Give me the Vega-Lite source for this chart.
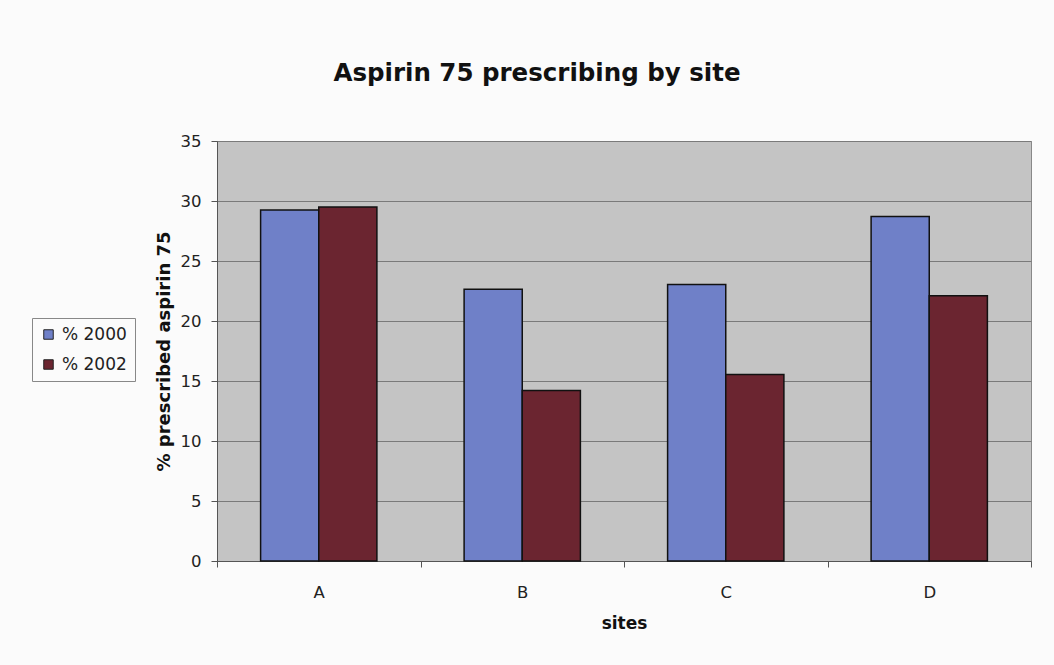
{
  "$schema": "https://vega.github.io/schema/vega-lite/v6.json",
  "autosize": {"type": "none"},
  "width": 814,
  "height": 420,
  "padding": {"left": 217, "top": 141, "right": 23, "bottom": 104},
  "background": "#fbfbfb",
  "title": {
    "text": "Aspirin 75 prescribing by site",
    "fontSize": 24.5,
    "font": "DejaVu Sans",
    "fontWeight": "bold",
    "color": "#111111",
    "anchor": "middle",
    "frame": "group",
    "dx": -87,
    "offset": 47
  },
  "data": {
    "values": [
      {"site": "A", "series": "% 2000", "value": 29.25},
      {"site": "A", "series": "% 2002", "value": 29.5},
      {"site": "B", "series": "% 2000", "value": 22.65},
      {"site": "B", "series": "% 2002", "value": 14.2},
      {"site": "C", "series": "% 2000", "value": 23.05},
      {"site": "C", "series": "% 2002", "value": 15.55},
      {"site": "D", "series": "% 2000", "value": 28.7},
      {"site": "D", "series": "% 2002", "value": 22.1}
    ]
  },
  "mark": {"type": "bar", "stroke": "#111111", "strokeWidth": 1.5},
  "encoding": {
    "x": {
      "field": "site",
      "type": "nominal",
      "scale": {"paddingInner": 0, "paddingOuter": 0},
      "axis": {
        "title": "sites",
        "labelAngle": 0,
        "tickBand": "extent",
        "tickSize": 6,
        "tickColor": "#555555",
        "domainColor": "#555555",
        "labelPadding": 17,
        "titlePadding": 15,
        "labelFontSize": 16.5,
        "titleFontSize": 17,
        "labelFont": "DejaVu Sans",
        "titleFont": "DejaVu Sans",
        "titleFontWeight": "bold",
        "labelColor": "#222222",
        "titleColor": "#111111"
      }
    },
    "xOffset": {
      "field": "series",
      "type": "nominal",
      "scale": {"paddingInner": 0, "paddingOuter": 0.75}
    },
    "y": {
      "field": "value",
      "type": "quantitative",
      "scale": {"domain": [0, 35], "nice": false},
      "axis": {
        "title": "% prescribed aspirin 75",
        "values": [0, 5, 10, 15, 20, 25, 30, 35],
        "grid": true,
        "gridColor": "#7a7a7a",
        "gridWidth": 1,
        "tickSize": 6,
        "tickColor": "#555555",
        "domainColor": "#555555",
        "labelPadding": 10,
        "titlePadding": 7,
        "labelFontSize": 16.5,
        "titleFontSize": 18,
        "labelFont": "DejaVu Sans",
        "titleFont": "DejaVu Sans",
        "titleFontWeight": "bold",
        "labelColor": "#222222",
        "titleColor": "#111111"
      }
    },
    "color": {
      "field": "series",
      "type": "nominal",
      "scale": {"domain": ["% 2000", "% 2002"], "range": ["#6f80c8", "#6b2530"]},
      "legend": {
        "title": null,
        "orient": "none",
        "legendX": -185,
        "legendY": 177,
        "symbolType": "square",
        "symbolSize": 90,
        "symbolStrokeColor": "#222222",
        "symbolStrokeWidth": 1,
        "labelFontSize": 17,
        "labelFont": "DejaVu Sans",
        "labelColor": "#222222",
        "rowPadding": 12,
        "padding": 8,
        "strokeColor": "#888888",
        "fillColor": "#fbfbfb",
        "labelOffset": 5
      }
    }
  },
  "config": {
    "view": {"fill": "#c4c4c4", "stroke": "#888888", "strokeWidth": 1}
  }
}
